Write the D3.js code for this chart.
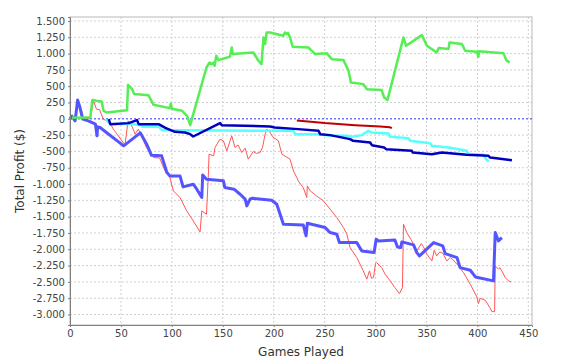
<!DOCTYPE html>
<html>
<head>
<meta charset="utf-8">
<script src="https://cdn.jsdelivr.net/npm/d3@7"></script>
<style>
  body { margin: 0; background: #fff; }
  svg { display: block; font-family: "DejaVu Sans", sans-serif; }
  .tick text { fill: #444; font-size: 10px; }
  .axis-label { fill: #333; font-size: 12px; }
</style>
</head>
<body>
<svg id="chart" width="566" height="364"></svg>
<script>
// tick values
const xTicks = [0, 50, 100, 150, 200, 250, 300, 350, 400, 450];
const yTicks = [1500, 1250, 1000, 750, 500, 250, 0, -250, -500, -750, -1000, -1250, -1500, -1750, -2000, -2250, -2500, -2750, -3000];

// [games played, total profit] per player
const redSeries = [
  [0, 0], [2, 40], [5, -30], [7, 276], [9, 200], [11.5, 122], [13, 0], [20, 10], [23, 276], [26, 148], [29, 140],
  [32.7, -5], [39, -56], [42.5, -158], [54, -399], [57, -31], [60.6, -107], [64, -235], [67, -158], [70, -250],
  [75, -440], [82, -594], [88, -600], [93.3, -798], [98, -900], [101.5, -1105], [108, -1207], [114.6, -1411],
  [121, -1565], [127.7, -1734], [129.4, -1411], [134, -1462], [136, -798], [136.5, -542], [141, -568],
  [142.4, -440], [147.3, -312], [150.6, -337], [154, -491], [158.8, -261], [162, -440], [165, -400],
  [168.6, -517], [172, -450], [175, -618], [180, -500], [183, -530], [186.6, -517], [189, -440], [191.6, -235],
  [193.3, -158], [196, -200], [199.7, -286], [204.6, -337], [208, -542], [212, -580], [216, -618],
  [219.4, -798], [222.7, -900], [224, -951], [229, -1054], [232.5, -1207], [233, -1028], [235.8, -1105],
  [242, -1181], [248.8, -1258], [255.4, -1385], [262, -1514], [268.5, -1668], [271.8, -1769], [275, -1974],
  [281.6, -2128], [288, -2332], [291.4, -2459], [294, -2332], [296, -2444], [298, -2434], [300, -2215],
  [301, -2204], [306, -2281], [309.4, -2383], [314.4, -2485], [319, -2588], [323.5, -2680], [326.4, -2588],
  [327.4, -1616], [330.7, -1745], [335.6, -1872], [340.5, -2025], [344.8, -1913], [347, -1960],
  [350.4, -2076], [355.3, -2179], [357.6, -2015], [360, -2102], [363, -2040], [366, -2060], [370, -2179],
  [373.3, -2128], [376, -2160], [381.4, -2255], [386.3, -2358], [393, -2536], [399.5, -2731], [401, -2833],
  [402.7, -2751], [407.7, -2782], [412.6, -2904], [414.3, -2956], [416.9, -2956], [417.5, -2255],
  [420.7, -2306], [422, -2280], [424, -2332], [427.3, -2434], [430.5, -2485], [433, -2500]
];
const blueSeries = [
  [0, 0], [2, 40], [5, -31], [7.5, 287], [9.8, 173], [12.5, -5], [18, -31], [25, -82], [26.5, -261], [27.2, -123],
  [29.5, -133], [52.7, -414], [69, -215], [75.3, -389], [80, -560], [90, -568], [95, -820], [98, -875],
  [108, -875], [111, -1043], [121, -1002], [124.5, -1079], [129.4, -1207], [130.3, -860], [134, -926],
  [150.6, -951], [152, -1054], [161, -1079], [167, -1156], [172, -1232], [173.6, -1335], [176.8, -1232],
  [178.5, -1217], [198, -1248], [203, -1309], [206.3, -1462], [209.5, -1616], [229, -1626], [231.8, -1795],
  [233, -1601], [250.5, -1667], [255.4, -1744], [262, -1769], [264.5, -1898], [281.6, -1898], [286.5, -2025],
  [298.6, -2051], [300.6, -1846], [303, -1872], [319, -1857], [321.5, -1964], [324.8, -1974], [325.8, -1887],
  [337.3, -1933], [340.5, -2051], [343.2, -2102], [357, -1898], [366, -1949], [368.4, -2066], [380, -2128],
  [383, -2281], [393, -2322], [398, -2424], [415.8, -2485], [417.5, -1744], [420.7, -1872], [424, -1821]
];
const greenSeries = [
  [2, 20], [10, 15], [20, 25], [22, 290], [26, 276], [31, 265], [33, 122], [36, 97], [56, 133], [57, 522],
  [61, 455], [63, 379], [77, 363], [82, 215], [98, 164], [99, 235], [100, 155], [110, 123], [115, 46],
  [118, -97], [134, 787], [137, 864], [139, 839], [141, 864], [142, 813], [143.6, 967], [145.7, 900],
  [157, 951], [158.8, 1094], [159.8, 992], [180, 1017], [185, 890], [188, 839], [190, 1248], [191.6, 1146],
  [193, 1324], [196.5, 1324], [209.5, 1273], [211, 1324], [212.8, 1299], [214, 1320], [216, 1248],
  [218.7, 1105], [234, 1094], [240.7, 992], [252, 1007], [257, 915], [268.5, 900], [273.5, 736],
  [275.8, 557], [288, 532], [291.4, 455], [306, 440], [308.4, 327], [311.7, 287], [327.4, 1248], [330, 1120],
  [345.5, 1283], [350.4, 1120], [360, 1017], [362, 1084], [371.6, 1069], [372.6, 1171], [384.8, 1146],
  [388, 1043], [399.5, 1028], [401, 951], [401.5, 1035], [425.6, 1007], [428.3, 900], [431.6, 864]
];
const cyanSeries = [
  [34.7, -5], [39.6, -82], [57, -75], [70, -100], [71, -123], [87, -123], [90.4, -174], [108, -174],
  [200, -184], [219.4, -184], [221, -235], [242, -235], [257, -261], [271.8, -261], [276.7, -275],
  [286.5, -250], [293, -184], [296, -210], [312.7, -225], [314.4, -276], [332, -296], [334, -337],
  [353.6, -373], [355.3, -414], [371.6, -440], [389.6, -491], [391.3, -542], [406, -552], [408.6, -618],
  [411, -655]
];
const darkRedSeries = [
  [222.7, -25], [250, -65], [280, -98], [304.5, -118], [314, -130], [316, -143]
];
const navySeries = [
  [38, -5], [39.6, -82], [57.6, -66], [65.8, -20], [67.5, -82], [87, -82], [93.6, -140], [103, -199],
  [113, -210], [118, -235], [121, -271], [147.3, -66], [149, -97], [196.5, -118], [201, -133], [224, -158],
  [244, -184], [245.6, -235], [255.4, -250], [275, -311], [278, -337], [294.7, -363], [296.4, -404],
  [308.4, -440], [310.4, -465], [335.6, -491], [336.6, -517], [355.3, -542], [365, -517], [389.6, -552],
  [410.9, -568], [412.6, -594], [433.9, -634]
];

const series = [
  { data: redSeries, color: "#ff5555", width: 1 },
  { data: blueSeries, color: "#5555ff", width: 3 },
  { data: greenSeries, color: "#55ee55", width: 2.5 },
  { data: cyanSeries, color: "#55ffff", width: 2.5 },
  { data: darkRedSeries, color: "#c00000", width: 2 },
  { data: navySeries, color: "#0000c0", width: 2.5 },
];

const locale = d3.formatLocale({ decimal: ",", thousands: ".", grouping: [3], currency: ["", ""], minus: "-" });
const fmt = locale.format(",d");

function draw() {
  const margin = { top: 17, right: 34, bottom: 39, left: 70 };
  const W = 566, H = 364;
  const width = W - margin.left - margin.right;
  const height = H - margin.top - margin.bottom;

  const svg = d3.select("#chart");
  const g = svg.append("g").attr("transform", `translate(${margin.left},${margin.top})`);

  const x = d3.scaleLinear().domain([0, 453.6]).range([0, width]);
  const y = d3.scaleLinear().domain([-3161, 1561]).range([height, 0]);

  // grid
  g.append("g")
    .selectAll("line")
    .data(xTicks)
    .join("line")
    .attr("x1", (d) => x(d)).attr("x2", (d) => x(d))
    .attr("y1", 0).attr("y2", height)
    .attr("stroke", "#d0d0d0").attr("stroke-dasharray", "2,2");
  g.append("g")
    .selectAll("line")
    .data(yTicks)
    .join("line")
    .attr("x1", 0).attr("x2", width)
    .attr("y1", (d) => y(d)).attr("y2", (d) => y(d))
    .attr("stroke", "#d0d0d0").attr("stroke-dasharray", "2,2");

  // outline
  g.append("rect")
    .attr("width", width).attr("height", height)
    .attr("fill", "none").attr("stroke", "#b8b8b8");

  // zero marker
  g.append("line")
    .attr("x1", 0).attr("x2", width)
    .attr("y1", y(0)).attr("y2", y(0))
    .attr("stroke", "#4444ff").attr("stroke-dasharray", "2,2");

  // series
  const line = d3.line().x((d) => x(d[0])).y((d) => y(d[1]));
  series.forEach((s) => {
    g.append("path")
      .datum(s.data)
      .attr("d", line)
      .attr("fill", "none")
      .attr("stroke", s.color)
      .attr("stroke-width", s.width)
      .attr("stroke-linejoin", "round");
  });

  // axes
  const xAxis = g.append("g")
    .attr("transform", `translate(0,${height})`)
    .call(d3.axisBottom(x).tickValues(xTicks).tickFormat(fmt).tickSize(2).tickPadding(3));
  const yAxis = g.append("g")
    .call(d3.axisLeft(y).tickValues(yTicks).tickFormat(fmt).tickSize(2).tickPadding(3));
  [xAxis, yAxis].forEach((a) => {
    a.select(".domain").attr("stroke", "#808080");
    a.selectAll(".tick line").attr("stroke", "#808080");
    a.selectAll(".tick text").attr("font-family", "DejaVu Sans").attr("font-size", 10);
  });

  svg.append("text")
    .attr("class", "axis-label")
    .attr("x", margin.left + width / 2)
    .attr("y", 356)
    .attr("text-anchor", "middle")
    .text("Games Played");

  svg.append("text")
    .attr("class", "axis-label")
    .attr("transform", `translate(24,${margin.top + height / 2}) rotate(-90)`)
    .attr("text-anchor", "middle")
    .text("Total Profit ($)");
}

draw();
</script>
</body>
</html>
